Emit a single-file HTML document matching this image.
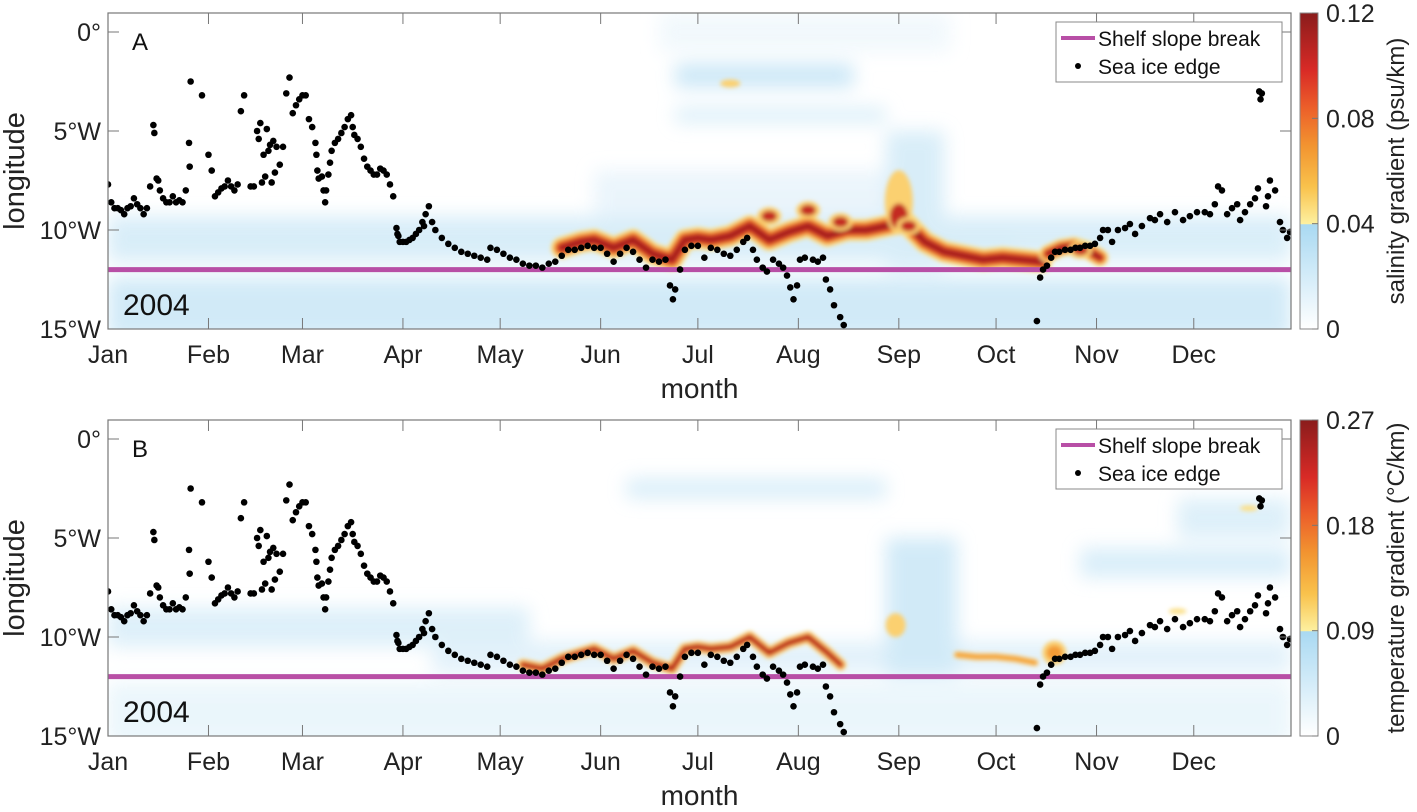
<!DOCTYPE html>
<html><head><meta charset="utf-8">
<style>
html,body{margin:0;padding:0;background:#fff;}
svg{display:block;font-family:"Liberation Sans",Arial,sans-serif;}
</style></head>
<body>
<svg id="fig" width="1417" height="812" viewBox="0 0 1417 812" xmlns="http://www.w3.org/2000/svg">
<defs>
<filter id="blurBlue" filterUnits="userSpaceOnUse" x="0" y="0" width="1417" height="812"><feGaussianBlur stdDeviation="9"/></filter>
<filter id="blurHeat" filterUnits="userSpaceOnUse" x="0" y="0" width="1417" height="812"><feGaussianBlur stdDeviation="2.2"/></filter>
<linearGradient id="cbA" x1="0" y1="1" x2="0" y2="0">
<stop offset="0" stop-color="#ffffff"/><stop offset="0.33" stop-color="#a9d9f2"/>
<stop offset="0.333" stop-color="#fdf0a0"/><stop offset="0.45" stop-color="#f9c24c"/>
<stop offset="0.58" stop-color="#f29430"/><stop offset="0.7" stop-color="#ec5f2a"/>
<stop offset="0.82" stop-color="#d82a26"/><stop offset="1" stop-color="#8a1c1c"/>
</linearGradient>
<clipPath id="clipA"><rect x="108" y="13" width="1183" height="316"/></clipPath>
<clipPath id="clipB"><rect x="108" y="420" width="1183" height="316"/></clipPath>
</defs>
</svg>
<script>
// ---- data ----
const monthLabels = ["Jan","Feb","Mar","Apr","May","Jun","Jul","Aug","Sep","Oct","Nov","Dec"];
const monthStartDays = [0,31,60,91,121,152,182,213,244,274,305,335];
const lonTicks = [0,5,10,15];
const lonTickLabels = ["0°","5°W","10°W","15°W"];
const shelfLon = 12.0;
const iceDays = [0,1,2,3,4,5,6,7,8,9,10,11,12,13,14,14.3,15,15.5,16,17,18,19,20,21,22,23,24,25,25.2,25.5,
29,31,32,33,34,35,36,37,38,39,40,41,42,44,45,46,46.5,47,47.5,48,48.5,49,49.5,50,50.5,51,51.5,52,53,54,55,56,
57,58,59,60,61,62,63,64,64.3,64.6,65,66,66.5,67,67.3,68,68.5,69,70,71,72,73,74,75,75.5,76,77,78,79,80,81,82,83,84,85,86,87,88,
89,89.3,89.6,90,91,92,93,94,95,96,97,97.5,98,99,100,101,103,105,107,109,111,113,115,117,118,120,122,124,126,128,130,132,134,136,138,140,142,
144,146,148,150,152,154,156,158,160,162,164,166,168,170,172,173.4,174.3,175,176.5,178,180,182,184,186,188,190,192,194,196,197.2,199,200.2,202,203.3,205.2,207,208.3,209.5,210.5,211.5,212.6,213.5,215,217.5,219,220.6,221.5,222.8,224,225.9,227,
286.6,287.6,288.5,289.7,291,292.2,293.5,295.3,297,298.5,299.9,301.5,303,304.5,306.1,307,308.5,309.8,311.6,313.8,315.3,316.9,319,321.5,323,324.6,326.8,329.2,331.7,333.8,336,338.4,340,341.5,342.5,343.7,345.3,346.8,348.4,349.3,350.8,352.4,353.9,354.8,355.2,355.6,356,357.3,357.9,358.5,360.1,361.6,362.5,363.8,364.7];
const iceLons = [7.7,8.6,8.9,8.9,9.0,9.2,8.9,8.8,8.4,8.7,8.9,9.2,8.9,7.8,4.7,5.1,7.4,7.5,8.0,8.4,8.6,8.6,8.3,8.6,8.5,8.6,8.0,5.6,6.8,2.5,
3.2,6.2,7.0,8.3,8.1,7.9,7.8,7.5,7.8,8.0,7.7,4.0,3.2,7.8,7.8,5.0,5.4,4.6,7.6,6.2,7.3,4.9,6.0,5.7,7.6,5.5,7.1,5.8,6.7,5.8,3.1,2.3,
4.1,3.7,3.4,3.2,3.2,4.4,4.8,5.6,6.2,7.0,7.4,7.3,8.0,8.6,8.0,7.2,6.6,6.0,5.6,5.4,5.1,4.8,4.4,4.2,4.8,5.2,5.4,5.8,6.4,6.8,7.0,7.2,7.2,6.9,7.0,7.2,7.7,8.3,
9.9,10.2,10.3,10.6,10.6,10.6,10.5,10.4,10.2,10.0,9.6,9.8,9.2,8.8,9.6,10.0,10.4,10.7,10.9,11.1,11.2,11.3,11.4,11.5,10.9,11.0,11.2,11.4,11.5,11.7,11.8,11.8,11.9,11.7,11.6,11.3,11.0,
11.0,10.9,10.8,10.9,10.9,11.2,11.6,11.2,10.9,11.1,11.5,11.9,11.5,11.6,11.5,12.8,13.5,13.0,12.0,11.0,10.8,10.8,11.4,10.9,11.0,11.2,11.3,11.0,10.6,10.4,11.0,11.5,11.9,12.1,11.5,11.7,11.9,12.3,12.9,13.5,12.8,11.5,11.4,11.5,11.6,11.4,12.5,13.0,13.8,14.4,14.8,
14.6,12.4,12.0,11.8,11.4,11.1,11.1,11.0,11.0,10.9,10.9,10.8,10.8,10.7,10.4,10.0,10.0,10.6,10.0,9.9,9.7,10.2,9.8,9.4,9.5,9.2,9.6,9.1,9.5,9.3,9.1,9.1,9.2,8.7,7.8,8.0,9.2,8.9,8.7,9.5,9.1,8.7,8.4,7.9,3.0,3.4,3.1,8.8,8.3,7.5,8.0,9.6,10.0,10.4,10.1,10.2];
// heat ribbons (day, lon)
const ribbonADays = [140,146,150,156,162,168,174,178,182,186,192,198,204,210,216,222,228,234,240,246,252,258,264,270,276,282,288];
const ribbonALons = [10.9,10.6,10.5,10.9,10.5,11.2,11.5,10.5,10.4,10.5,10.3,9.8,10.5,10.1,9.8,10.3,10.0,10.0,9.8,9.6,10.6,11.1,11.3,11.5,11.4,11.5,11.6];
const ribbonA2Days = [290,294,298,302,306];
const ribbonA2Lons = [11.2,10.9,10.8,11.0,11.4];
const blobADays = [192,204,216,226,244,247,300];
const blobALons = [2.6,9.3,9.0,9.6,8.6,9.8,11.0];
const ribbonBDays = [128,134,140,146,150,156,162,168,174,178,182,186,192,198,204,210,216,222,226];
const ribbonBLons = [11.4,11.6,11.1,10.8,10.6,11.1,10.7,11.3,11.6,10.6,10.5,10.6,10.5,10.0,10.8,10.3,10.0,10.8,11.4];
const ribbonB2Days = [262,268,274,280,286];
const ribbonB2Lons = [10.9,11.0,11.0,11.1,11.3];
const blobBDays = [243,292,352,330];
const blobBLons = [9.4,10.8,3.5,8.7];

const svg = document.getElementById('fig');
const NS = 'http://www.w3.org/2000/svg';
function mk(tag, attrs, parent){const e=document.createElementNS(NS,tag);for(const k in attrs)e.setAttribute(k,attrs[k]);(parent||svg).appendChild(e);return e;}
const X0=108, X1=1291, PXD=(X1-X0)/365;
function xs(d){return X0+d*PXD;}

function path(days,lons,ys){return days.map((d,i)=>(i?'L':'M')+xs(d).toFixed(1)+' '+ys(lons[i]).toFixed(1)).join(' ');}

function panel(off, label, cbTicks, cbTitle, isA){
  const ys = lon=>32+off+lon*19.8;
  const top=13+off, bot=329+off;
  const g=mk('g',{});
  
  
  mk('rect',{x:X0,y:top,width:X1-X0,height:bot-top,fill:'#fff'},g);
  const field=mk('g',{'clip-path':isA?'url(#clipA)':'url(#clipB)'},g);
  
  
  const bg=mk('g',{filter:'url(#blurBlue)',opacity:'0.8'},field);
  const bands = isA ? [[0,365,9.3,11.6,'#cfe9f7'],[0,365,12.4,15.5,'#c6e5f6'],[150,250,7,9.3,'#e6f3fb'],[175,230,1.6,2.8,'#bfe2f5'],[175,240,3.8,4.6,'#d4ecf8'],[240,258,5,12,'#cfe9f7'],[280,365,10.3,11.6,'#d2ebf8'],[170,260,-1,1,'#eef7fc']]
                    : [[0,130,8.5,10.5,'#d5ecf8'],[100,365,10.2,11.8,'#dbeef9'],[0,365,12.3,15.5,'#e6f4fb'],[160,240,2,3.0,'#d0eaf8'],[240,262,5,12,'#c6e5f6'],[300,365,5.5,7.0,'#d0eaf8'],[330,365,3,5,'#d5ecf8']];
  bands.forEach(b=>{const r=mk('rect',{x:xs(b[0]),y:ys(b[2]),width:xs(b[1])-xs(b[0]),height:ys(b[3])-ys(b[2]),fill:b[4]},bg);
    });
  const heat=mk('g',{filter:'url(#blurHeat)'},field);
  const layers=[['#fbe08a',isA?22:12],['#f5a235',isA?17:9],['#e0452a',isA?12:6],['#a41e1e',isA?6:3]];
  const rib = isA?[[ribbonADays,ribbonALons,1],[ribbonA2Days,ribbonA2Lons,0.8]]:[[ribbonBDays,ribbonBLons,1],[ribbonB2Days,ribbonB2Lons,0.6]];
  rib.forEach(([d,l,s],ri)=>{
    layers.forEach((L,li)=>{ if(ri===1&&!isA&&li>1)return;
      const p=mk('path',{d:path(d,l,ys),fill:'none',stroke:L[0],'stroke-width':L[1]*s,'stroke-linejoin':'round','stroke-linecap':'round'},heat);
      });
  });
  const bd=isA?blobADays:blobBDays, bl=isA?blobALons:blobBLons;
  bd.forEach((d,i)=>{
    const big = isA && (i===4);
    const rx= big?14:(i===0?10:12), ry= big?32:(isA?(i===0?4:9):12);
    if(!isA && i>1){ const e=mk('ellipse',{cx:xs(d),cy:ys(bl[i]),rx:9,ry:3,fill:'#fbe08a'},heat); return;}
    const e1=mk('ellipse',{cx:xs(d),cy:ys(bl[i]),rx:rx,ry:ry,fill:'#fbd070'},heat);
    
    if(i>0){const e2=mk('ellipse',{cx:xs(d),cy:ys(bl[i])+ (big?14:0),rx:rx*0.65,ry:ry*(big?0.4:0.6),fill:isA?'#c42a22':'#f39a35'},heat);
      }
  });
  const sl=mk('line',{x1:X0,x2:X1,y1:ys(shelfLon),y2:ys(shelfLon),stroke:'#b84fa6','stroke-width':5},field);
  
  iceDays.forEach((d,i)=>{const c=mk('circle',{cx:xs(d),cy:ys(iceLons[i]),r:3.3,fill:'#000'},field);
    });
  const box=mk('rect',{x:X0,y:top,width:X1-X0,height:bot-top,fill:'none',stroke:'#777','stroke-width':1.2},g);
  
  monthStartDays.forEach((d,i)=>{
    mk('line',{x1:xs(d),x2:xs(d),y1:bot,y2:bot-11,stroke:'#777'},g);
    mk('line',{x1:xs(d),x2:xs(d),y1:top,y2:top+11,stroke:'#777'},g);
    const t=mk('text',{x:xs(d),y:bot+34,'font-size':25,'text-anchor':'middle',fill:'#222'},g);
    t.textContent=monthLabels[i];
  });
  lonTicks.forEach((v,i)=>{
    mk('line',{x1:X0,x2:X0+11,y1:ys(v),y2:ys(v),stroke:'#777'},g);
    mk('line',{x1:X1,x2:X1-11,y1:ys(v),y2:ys(v),stroke:'#777'},g);
    const t=mk('text',{x:101,y:ys(v)+9,'font-size':25,'text-anchor':'end',fill:'#222'},g);
    t.textContent=lonTickLabels[i];
  });
  const yt=mk('text',{x:0,y:0,'font-size':29,'text-anchor':'middle',fill:'#222',transform:`translate(24,${(top+bot)/2}) rotate(-90)`},g);
  yt.textContent='longitude';
  const xt=mk('text',{x:(X0+X1)/2,y:bot+69,'font-size':28,'text-anchor':'middle',fill:'#222'},g);
  xt.textContent='month';
  const pl=mk('text',{x:132,y:top+37,'font-size':24,fill:'#111'},g);
  pl.textContent=label;
  const yr=mk('text',{x:123,y:bot-14,'font-size':30,fill:'#111'},g);
  yr.textContent='2004';
  const lg=mk('g',{},g);
  mk('rect',{x:1056,y:top+9,width:226,height:60,fill:'#fff',stroke:'#888'},lg);
  mk('line',{x1:1061,x2:1095,y1:top+25,y2:top+25,stroke:'#b84fa6','stroke-width':4},lg);
  const l1=mk('text',{x:1098,y:top+33,'font-size':21,fill:'#111'},lg);l1.textContent='Shelf slope break';
  
  mk('circle',{cx:1078,cy:top+53,r:3,fill:'#000'},lg);
  const l2=mk('text',{x:1098,y:top+61,'font-size':21,fill:'#111'},lg);l2.textContent='Sea ice edge';
  
  const cb=mk('g',{},g);
  mk('rect',{x:1300,y:top,width:18,height:bot-top,fill:'url(#cbA)',stroke:'#888'},cb);
  cbTicks.forEach((v,i)=>{const y=bot-(bot-top)*i/3;
    mk('line',{x1:1312,x2:1318,y1:y,y2:y,stroke:'#777'},cb);
    const t=mk('text',{x:1326,y:y+9,'font-size':25,fill:'#222'},cb);t.textContent=v;
    });
  const ct=mk('text',{x:0,y:0,'font-size':24,'text-anchor':'middle',fill:'#222',transform:`translate(1404,${(top+bot)/2}) rotate(-90)`},cb);
  ct.textContent=cbTitle;
}
panel(0,'A',['0','0.04','0.08','0.12'],'salinity gradient (psu/km)',true);
panel(407,'B',['0','0.09','0.18','0.27'],'temperature gradient (°C/km)',false);
</script>
</body></html>
